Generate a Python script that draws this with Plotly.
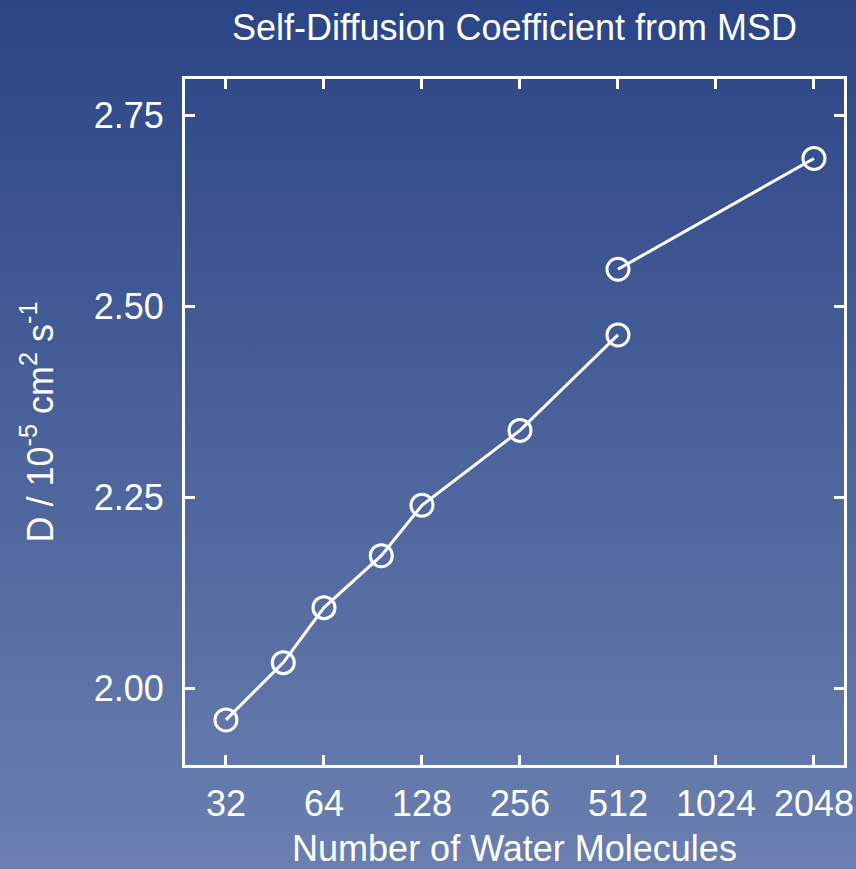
import base64
import plotly.graph_objects as go

# Data
n_series1 = [32, 48, 64, 96, 128, 256, 512]
d_series1 = [1.959, 2.034, 2.106, 2.174, 2.240, 2.338, 2.463]
n_series2 = [512, 2048]
d_series2 = [2.549, 2.694]
x_tickvals = [32, 64, 128, 256, 512, 1024, 2048]
x_ticktext = ["32", "64", "128", "256", "512", "1024", "2048"]
y_tickvals = [2.00, 2.25, 2.50, 2.75]
y_ticktext = ["2.00", "2.25", "2.50", "2.75"]

W, H = 856, 869
L, R, T, B = 185, 12, 79, 104
pw, ph = W - L - R, H - T - B

svg = (
    '<svg xmlns="http://www.w3.org/2000/svg" width="100" height="100" preserveAspectRatio="none" viewBox="0 0 100 100">'
    '<defs><linearGradient id="g" x1="0" y1="0" x2="0" y2="1">'
    '<stop offset="0" stop-color="#2a4485"/>'
    '<stop offset="1" stop-color="#6b80b0"/>'
    '</linearGradient></defs>'
    '<rect x="0" y="0" width="100" height="100" fill="url(#g)"/></svg>'
)
bg_uri = "data:image/svg+xml;base64," + base64.b64encode(svg.encode()).decode()

FONT = "Liberation Sans, Arial, Helvetica, sans-serif"
FS = 36

line_style = dict(color="white", width=3)
marker_style = dict(symbol="circle-open", size=22, color="white", line=dict(color="white", width=3))

fig = go.Figure()
fig.add_trace(go.Scatter(x=n_series1, y=d_series1, mode="lines+markers",
                         line=line_style, marker=marker_style, showlegend=False))
fig.add_trace(go.Scatter(x=n_series2, y=d_series2, mode="lines+markers",
                         line=line_style, marker=marker_style, showlegend=False))

pad = 6
fig.update_layout(
    width=W, height=H,
    margin=dict(l=L, r=R, t=T, b=B, autoexpand=False),
    paper_bgcolor="#4a5f99",
    plot_bgcolor="rgba(0,0,0,0)",
    font=dict(family=FONT, size=FS, color="white"),
    title=dict(text="Self-Diffusion Coefficient from MSD", x=0.5, xref="paper",
               y=1 - 27 / H, yref="container", yanchor="middle",
               font=dict(family=FONT, size=FS, color="white")),
    images=[dict(source=bg_uri, xref="paper", yref="paper",
                 x=-(L + pad) / pw, y=1 + (T + pad) / ph,
                 sizex=(W + 2 * pad) / pw, sizey=(H + 2 * pad) / ph,
                 xanchor="left", yanchor="top", sizing="stretch", layer="below")],
)

fig.update_xaxes(
    type="log", range=[1.3793, 3.4035], automargin=False,
    tickvals=x_tickvals, ticktext=x_ticktext,
    showgrid=False, zeroline=False,
    showline=True, linecolor="white", linewidth=3, mirror="allticks",
    ticks="inside", ticklen=10, tickwidth=3, tickcolor="white",
    ticklabelstandoff=5,
    title=dict(text="Number of Water Molecules", standoff=25, font=dict(size=FS)),
)
fig.update_yaxes(
    range=[1.90, 2.798], automargin=False,
    tickvals=y_tickvals, ticktext=y_ticktext,
    showgrid=False, zeroline=False,
    showline=True, linecolor="white", linewidth=3, mirror="allticks",
    ticks="inside", ticklen=10, tickwidth=3, tickcolor="white",
    ticklabelstandoff=11,
    title=dict(text="D / 10<sup>-5</sup> cm<sup>2</sup> s<sup>-1</sup>", standoff=30, font=dict(size=FS)),
)

fig.write_html("out.html")
